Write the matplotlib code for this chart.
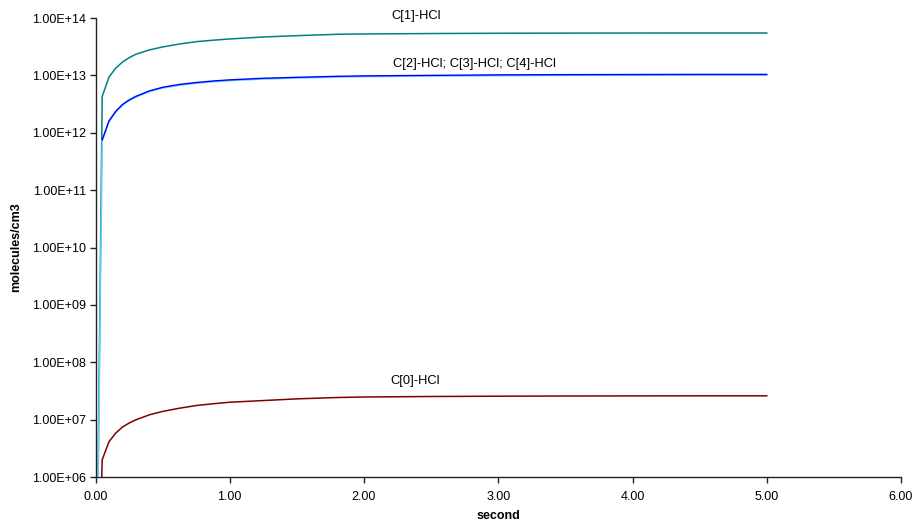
import numpy as np
import matplotlib
matplotlib.use("Agg")
import matplotlib.pyplot as plt
from matplotlib.ticker import FixedLocator, FuncFormatter, NullLocator

plt.rcParams['font.family'] = ['Liberation Sans', 'DejaVu Sans']

# time grid (s)
time = [0.0, 0.05, 0.1, 0.15, 0.2, 0.25, 0.3, 0.4, 0.5, 0.625, 0.75, 0.875,
        1.0, 1.25, 1.5, 1.8, 2.0, 2.5, 3.0, 3.5, 4.0, 4.5, 5.0]

# concentrations (molecules/cm3); nan = not plotted on the log axis
c0_hcl = [1e2, 2.0e6, 4.1e6, 5.8e6, 7.4e6, 8.7e6, 9.9e6, 1.21e7, 1.39e7,
          1.58e7, 1.76e7, 1.89e7, 2.01e7, 2.15e7, 2.3e7, 2.43e7, 2.48e7,
          2.53e7, 2.56e7, 2.58e7, 2.59e7, 2.6e7, 2.6e7]
c1_hcl = [1e2, 4.3e12, 9.3e12, 1.33e13, 1.7e13, 2.03e13, 2.33e13, 2.77e13,
          3.13e13, 3.52e13, 3.87e13, 4.1e13, 4.31e13, 4.67e13, 4.92e13,
          5.2e13, 5.27e13, 5.36e13, 5.42e13, 5.45e13, 5.47e13, 5.48e13,
          5.48e13]
c2_hcl = [np.nan, 7.5e11, 1.6e12, 2.35e12, 3.1e12, 3.73e12, 4.3e12, 5.35e12,
          6.2e12, 6.95e12, 7.5e12, 7.98e12, 8.35e12, 8.9e12, 9.25e12, 9.63e12,
          9.8e12, 1.0e13, 1.02e13, 1.03e13, 1.035e13, 1.04e13, 1.04e13]
c3_hcl = [1e2, 7.3e11, 1.56e12, 2.29e12, 3.02e12, 3.63e12, 4.19e12, 5.21e12,
          6.04e12, 6.77e12, 7.31e12, 7.78e12, 8.14e12, 8.68e12, 9.02e12,
          9.39e12, 9.56e12, 9.75e12, 9.95e12, 1.005e13, 1.01e13, 1.015e13,
          1.015e13]
c4_hcl = [np.nan, 7.2e11, 1.54e12, 2.26e12, 2.98e12, 3.59e12, 4.14e12,
          5.15e12, 5.97e12, 6.69e12, 7.22e12, 7.68e12, 8.04e12, 8.57e12,
          8.91e12, 9.27e12, 9.44e12, 9.63e12, 9.82e12, 9.92e12, 9.97e12,
          1.002e13, 1.002e13]

labels = ["C[1]-HCl", "C[2]-HCl; C[3]-HCl; C[4]-HCl", "C[0]-HCl"]

y_ticks = [1e6, 1e7, 1e8, 1e9, 1e10, 1e11, 1e12, 1e13, 1e14]
x_ticks = [0, 1, 2, 3, 4, 5, 6]

fig = plt.figure(figsize=(9.13, 5.22), dpi=100)
ax = fig.add_axes([95.5 / 913, 45 / 522, 805.5 / 913, 459 / 522])

ax.plot(time, c1_hcl, color='#008080', lw=1.1, zorder=1)
ax.plot(time, c4_hcl, color='#C8F4FF', lw=1.1, zorder=2)
ax.plot(time, c3_hcl, color='#66CCFF', lw=1.1, zorder=3)
ax.plot(time, c2_hcl, color='#0000FF', lw=1.0, zorder=4)
ax.plot(time, c0_hcl, color='#800000', lw=1.1, zorder=5)

ax.set_yscale('log')
ax.set_ylim(1e6, 1e14)
ax.set_xlim(0, 6)

ax.yaxis.set_major_locator(FixedLocator(y_ticks))
ax.yaxis.set_minor_locator(NullLocator())
ax.yaxis.set_major_formatter(FuncFormatter(
    lambda v, p: "{:.2E}".format(v)))
ax.xaxis.set_major_locator(FixedLocator(x_ticks))
ax.xaxis.set_major_formatter(FuncFormatter(lambda v, p: "{:.2f}".format(v)))

for side in ('top', 'right'):
    ax.spines[side].set_visible(False)
for side in ('left', 'bottom'):
    ax.spines[side].set_color('#222222')
    ax.spines[side].set_linewidth(1.0)

ax.tick_params(axis='both', direction='out', length=4, width=1.0,
               labelsize=9, colors='#222222', labelcolor='black')
ax.tick_params(axis='y', pad=3)
ax.tick_params(axis='x', pad=6)

ax.set_xlabel("second", fontsize=9, fontweight='bold', labelpad=5)
ax.set_ylabel("molecules/cm3", fontsize=9, fontweight='bold', labelpad=7)

ax.text(2.39, 1.08e14, labels[0], fontsize=9.3, ha='center', va='center')
ax.text(2.82, 1.55e13, labels[1], fontsize=9.3, ha='center', va='center')
ax.text(2.38, 4.74e7, labels[2], fontsize=9.3, ha='center', va='center')

fig.savefig("out.png", dpi=100)
